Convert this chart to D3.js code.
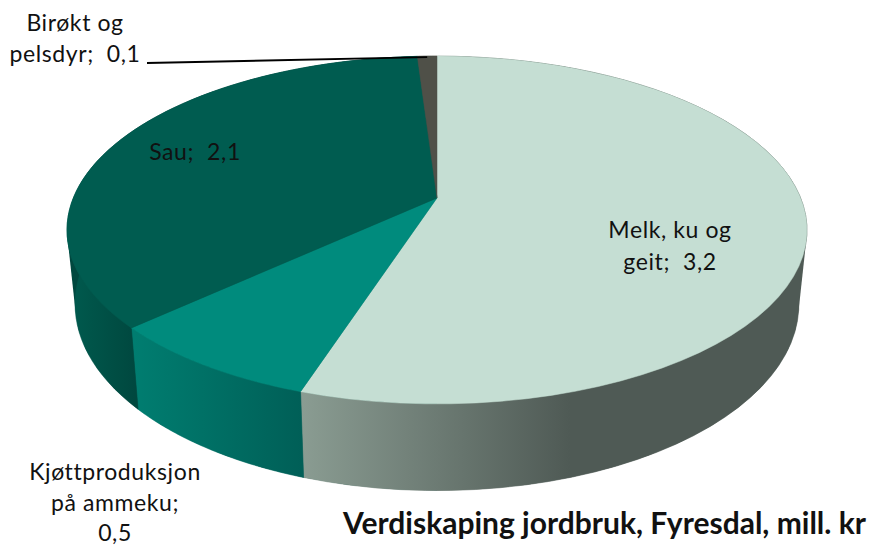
<!DOCTYPE html>
<html><head><meta charset="utf-8">
<script src="https://cdn.jsdelivr.net/npm/d3@7/dist/d3.min.js"></script>
<style>html,body{margin:0;padding:0;background:#fff}svg{display:block}text{font-family:Lato,sans-serif;fill:#111}</style>
</head><body><svg id="c" width="873" height="547"></svg>
<script>
const categories = ["Melk, ku og geit","Kjøttproduksjon på ammeku","Sau","Birøkt og pelsdyr"];
const values = [3.24,0.48,2.11,0.06];
const topColors = ["#c5ded3","#008b7d","#005c50","#4f5048"];
const wallStart = ["#8a9c92","#007d70","#005a4e","#4f5048"];
const wallEnd = ["#4f5a55","#005f57","#00483f","#4f5048"];
const labelLines = [["Melk, ku og","geit;  3,2"],["Kjøttproduksjon","på ammeku;","0,5"],["Sau;  2,1"],["Birøkt og","pelsdyr;  0,1"]];
const labelX = [670,115,195,75];
const labelY = [[238,270],[480,511,541],[160],[31,62]];
const titleText = "Verdiskaping jordbruk, Fyresdal, mill. kr";

const svg = d3.select("#c");
const k = 0.184;
const rimTop = {x0:437,y0:198,a:363.7,b:168};
const rimBot = {x0:437,y0:270,a:355.7,b:180};
const project = (r,t)=>{const u=Math.sin(t),v=-Math.cos(t),w=1-k*v;return [r.x0+r.a*u/w,r.y0+r.b*v/w];};
const pie = d3.pie().sort(null).startAngle(0).endAngle(2*Math.PI)(values);
const line = d3.line();
const samples=(a,b)=>d3.range(0,61).map(i=>a+(b-a)*i/60);
const defs = svg.append("defs");
const gradRange = [[302,570],[135,302],[70,135],[0,1]];
pie.forEach((d,i)=>{
  const g=defs.append("linearGradient").attr("id","w"+i).attr("gradientUnits","userSpaceOnUse")
    .attr("x1",gradRange[i][0]).attr("x2",gradRange[i][1]).attr("y1",0).attr("y2",0);
  g.append("stop").attr("offset",0).attr("stop-color",wallStart[i]);
  g.append("stop").attr("offset",1).attr("stop-color",wallEnd[i]);
});
// silhouette: convex hull of both rims, split into the right and left dark sides
const turn = samples(0,2*Math.PI);
const hull = d3.polygonHull(turn.map(t=>project(rimTop,t)).concat(turn.map(t=>project(rimBot,t))));
[["hr",rimTop.x0,873,wallEnd[0]],["hl",0,rimTop.x0,wallEnd[2]]].forEach(([id,x0,x1,col])=>{
  defs.append("clipPath").attr("id",id).append("rect").attr("x",x0).attr("y",0).attr("width",x1-x0).attr("height",547);
  svg.append("path").attr("d",line(hull)+"Z").attr("fill",col).attr("clip-path",`url(#${id})`);
});
pie.forEach((d,i)=>{
  const ts=samples(d.startAngle,d.endAngle);
  const pts=ts.map(t=>project(rimTop,t)).concat(ts.slice().reverse().map(t=>project(rimBot,t)));
  svg.append("path").attr("d",line(pts)+"Z").attr("fill",`url(#w${i})`).attr("stroke",`url(#w${i})`).attr("stroke-width",0.6);
});
pie.forEach((d,i)=>{
  const pts=[[rimTop.x0,rimTop.y0]].concat(samples(d.startAngle,d.endAngle).map(t=>project(rimTop,t)));
  svg.append("path").attr("d",line(pts)+"Z").attr("fill",topColors[i]).attr("stroke",topColors[i]).attr("stroke-width",0.5);
});
const mid=project(rimTop,(pie[3].startAngle+pie[3].endAngle)/2);
svg.append("path").attr("d",line([[147,63],[mid[0],mid[1]+1]])).attr("stroke","#000").attr("stroke-width",1.8).attr("fill","none");
categories.forEach((c,i)=>{
  labelLines[i].forEach((s,j)=>{
    svg.append("text").attr("x",labelX[i]).attr("y",labelY[i][j]).attr("text-anchor","middle")
      .attr("font-size",23).style("white-space","pre").style("letter-spacing","0.6px").text(s);
  });
});
svg.append("text").attr("x",604.5).attr("y",534).attr("text-anchor","middle").attr("font-size",30).attr("font-weight",700).text(titleText);
</script></body></html>
